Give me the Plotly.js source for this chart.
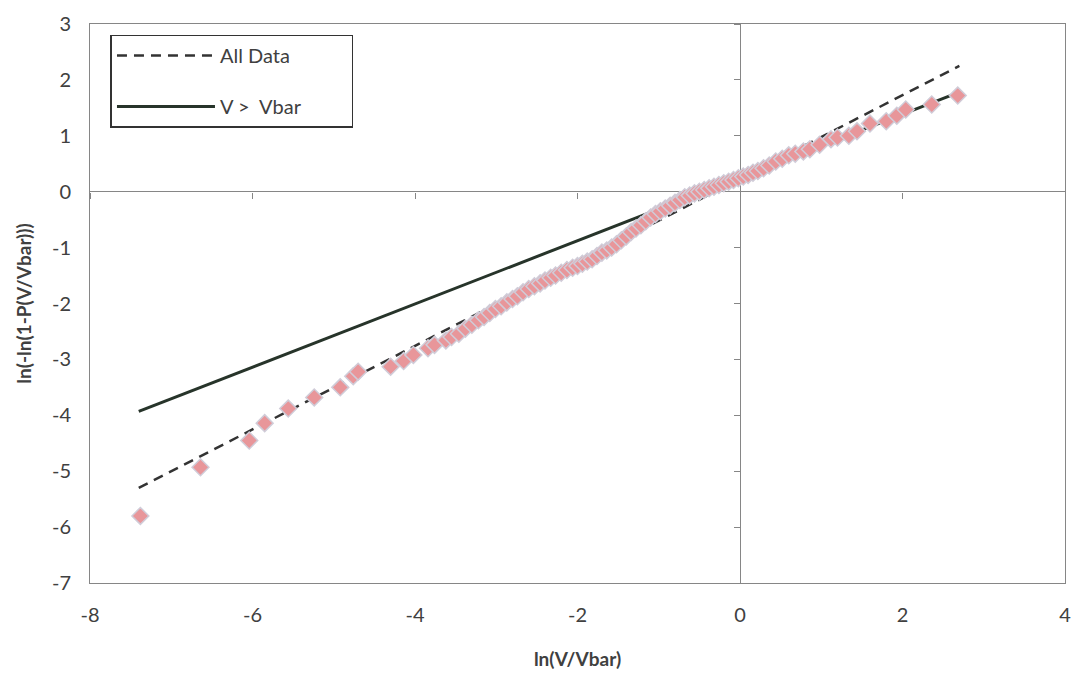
<!DOCTYPE html>
<html>
<head>
<meta charset="utf-8">
<script src="https://cdn.plot.ly/plotly-3.0.1.min.js"></script>
<style>html,body{margin:0;padding:0;background:#fff;}#chart{width:1076px;height:674px;}</style>
</head>
<body>
<div id="chart"></div>
<script>
// Observed points: ln(V/Vbar) and ln(-ln(1-P(V/Vbar)))
const lnV = [-7.38,-6.64,-6.04,-5.85,-5.56,-5.24,-4.92,-4.76,-4.70,-4.30,-4.14,-4.02,-3.84,-3.76,-3.62,-3.55,-3.46,-3.38,-3.30,-3.22,-3.15,-3.08,-3.01,-2.94,-2.87,-2.80,-2.74,-2.67,-2.60,-2.53,-2.46,-2.40,-2.33,-2.27,-2.20,-2.13,-2.06,-2.00,-1.94,-1.88,-1.82,-1.76,-1.70,-1.64,-1.58,-1.52,-1.46,-1.40,-1.34,-1.28,-1.22,-1.16,-1.10,-1.04,-0.98,-0.92,-0.86,-0.80,-0.74,-0.68,-0.62,-0.56,-0.50,-0.44,-0.38,-0.32,-0.26,-0.20,-0.14,-0.08,-0.02,0.04,0.10,0.16,0.22,0.29,0.36,0.44,0.52,0.60,0.68,0.78,0.86,0.98,1.12,1.20,1.34,1.44,1.60,1.80,1.93,2.04,2.36,2.68];
const lnlnP = [-5.80,-4.93,-4.45,-4.14,-3.88,-3.68,-3.50,-3.30,-3.22,-3.13,-3.03,-2.92,-2.80,-2.74,-2.66,-2.60,-2.54,-2.45,-2.38,-2.30,-2.24,-2.17,-2.10,-2.05,-1.98,-1.92,-1.87,-1.80,-1.74,-1.69,-1.64,-1.59,-1.54,-1.50,-1.45,-1.40,-1.36,-1.33,-1.29,-1.25,-1.21,-1.15,-1.09,-1.05,-1.00,-0.94,-0.87,-0.80,-0.72,-0.66,-0.60,-0.53,-0.46,-0.40,-0.35,-0.30,-0.25,-0.20,-0.15,-0.10,-0.07,-0.03,0.00,0.03,0.06,0.09,0.12,0.15,0.18,0.21,0.24,0.27,0.30,0.34,0.37,0.42,0.47,0.54,0.59,0.65,0.68,0.72,0.76,0.84,0.94,0.97,1.00,1.08,1.22,1.26,1.36,1.47,1.56,1.72];

// Fitted lines
const fitX = [-7.40, 2.70];
const allDataY = [-5.30, 2.25];
const vbarY = [-3.93, 1.78];

const xTicks = [-8,-6,-4,-2,0,2,4];
const yTicks = [-7,-6,-5,-4,-3,-2,-1,0,1,2,3];

const FONT = 'Lato, "Open Sans", "Liberation Sans", Arial, sans-serif';
const TXT = '#404040';
const AX = '#868686';

const traces = [
  {x: fitX, y: allDataY, mode: 'lines', name: 'All Data\u00A0\u00A0\u00A0\u00A0\u00A0\u00A0\u00A0\u00A0\u00A0\u00A0\u00A0', legendgroup: 'a', legendrank: 1,
   line: {color: '#333333', width: 2.5, dash: '10px,7px'}, hoverinfo: 'skip'},
  {x: fitX, y: vbarY, mode: 'lines', name: 'V >\u00A0 Vbar', legendgroup: 'b', legendrank: 2,
   line: {color: '#27342a', width: 3}, hoverinfo: 'skip'},
  {x: lnV, y: lnlnP, mode: 'markers', showlegend: false,
   marker: {symbol: 'diamond', size: 13, color: '#e8969a', line: {color: '#d0ccd8', width: 1.5}}},
  {x: [], y: [], xaxis: 'x2', yaxis: 'y2', showlegend: false, mode: 'markers'}
];

const layout = {
  width: 1076, height: 674,
  margin: {l: 90, r: 11, t: 24, b: 91},
  paper_bgcolor: '#ffffff', plot_bgcolor: '#ffffff',
  font: {family: FONT, color: TXT, size: 20},
  showlegend: true,
  legend: {
    x: 0.021, y: 0.981, xanchor: 'left', yanchor: 'top',
    bgcolor: '#ffffff', bordercolor: '#333333', borderwidth: 1.5,
    font: {family: FONT, size: 20, color: TXT},
    traceorder: 'grouped', tracegroupgap: 22, itemwidth: 98
  },
  xaxis: {
    range: [-8, 4], tickvals: xTicks, ticktext: xTicks.map(String),
    showgrid: false, zeroline: true, zerolinecolor: AX, zerolinewidth: 1,
    showline: true, mirror: true, linecolor: AX, linewidth: 1,
    ticks: '', ticklabelstandoff: 14,
    tickfont: {family: FONT, size: 20, color: TXT},
    title: {text: '<b>ln(V/Vbar)</b>', font: {family: FONT, size: 19, color: TXT}, standoff: 27}
  },
  yaxis: {
    range: [-7, 3], tickvals: yTicks, ticktext: yTicks.map(String),
    showgrid: false, zeroline: true, zerolinecolor: AX, zerolinewidth: 1,
    showline: true, mirror: true, linecolor: AX, linewidth: 1,
    ticks: '', ticklabelstandoff: 14,
    tickfont: {family: FONT, size: 20, color: TXT},
    title: {text: '<b>ln(-ln(1-P(V/Vbar)))</b>', font: {family: FONT, size: 19, color: TXT}, standoff: 15}
  },
  xaxis2: {
    overlaying: 'x', anchor: 'free', position: 0.7, side: 'bottom',
    range: [-8, 4], tickvals: xTicks, showticklabels: false,
    ticks: 'outside', ticklen: 6, tickcolor: AX, tickwidth: 1,
    showgrid: false, zeroline: false, showline: false
  },
  yaxis2: {
    overlaying: 'y', anchor: 'free', position: 8/12, side: 'left',
    range: [-7, 3], tickvals: yTicks, showticklabels: false,
    ticks: 'outside', ticklen: 6, tickcolor: AX, tickwidth: 1,
    showgrid: false, zeroline: false, showline: false
  }
};

Plotly.newPlot('chart', traces, layout, {displayModeBar: false, staticPlot: true});
</script>
</body>
</html>
